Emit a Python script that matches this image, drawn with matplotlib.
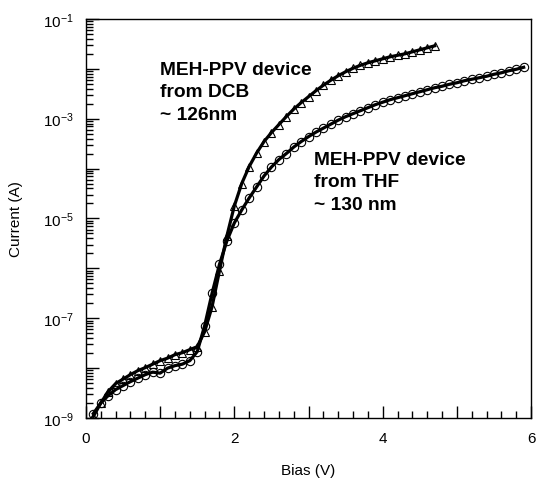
"""I-V curves of MEH-PPV devices (DCB vs THF) on a log scale."""
import matplotlib

matplotlib.use("Agg")
import matplotlib.pyplot as plt
from matplotlib.ticker import FixedLocator, FuncFormatter
import numpy as np

plt.rcParams["font.family"] = ["Liberation Sans", "DejaVu Sans"]
plt.rcParams["mathtext.default"] = "regular"

# bias points, 0.1 V apart
bias_dcb = np.round(np.arange(1, 48) * 0.1, 1)
bias_thf = np.round(np.arange(1, 60) * 0.1, 1)

# log10 of current (A)
log_dcb = [
    -8.97, -8.70, -8.47, -8.31, -8.22, -8.13, -8.05, -7.99, -7.92, -7.85,
    -7.80, -7.73, -7.69, -7.63, -7.57, -7.27, -6.77, -6.05, -5.35, -4.75,
    -4.30, -3.96, -3.69, -3.46, -3.28, -3.12, -2.96, -2.81, -2.68, -2.56,
    -2.44, -2.33, -2.23, -2.14, -2.06, -1.99, -1.93, -1.88, -1.84, -1.80,
    -1.76, -1.73, -1.70, -1.66, -1.62, -1.58, -1.54,
]
log_thf = [
    -8.91, -8.70, -8.55, -8.43, -8.35, -8.27, -8.20, -8.13, -8.08, -8.10,
    -8.00, -7.95, -7.92, -7.85, -7.67, -7.15, -6.50, -5.92, -5.45, -5.09,
    -4.83, -4.59, -4.37, -4.15, -3.97, -3.82, -3.70, -3.57, -3.46, -3.36,
    -3.27, -3.19, -3.11, -3.03, -2.96, -2.90, -2.84, -2.78, -2.72, -2.67,
    -2.62, -2.58, -2.54, -2.50, -2.46, -2.42, -2.38, -2.35, -2.31, -2.28,
    -2.24, -2.21, -2.18, -2.15, -2.11, -2.08, -2.04, -2.01, -1.97,
]

cur_dcb = 10.0 ** np.array(log_dcb)
cur_thf = 10.0 ** np.array(log_thf)

fig = plt.figure(figsize=(5.37, 4.85), dpi=100)
ax = fig.add_axes([0.160, 0.136, 0.829, 0.823])

ax.plot(bias_dcb, cur_dcb, color="black", lw=2.3, zorder=3)
ax.plot(bias_dcb, cur_dcb, ls="none", marker="^", ms=5.5, mfc="none",
        mec="black", mew=0.8, zorder=2)
ax.plot(bias_thf, cur_thf, color="black", lw=2.3, zorder=3)
ax.plot(bias_thf, cur_thf, ls="none", marker="o", ms=6, mfc="none",
        mec="black", mew=0.8, zorder=2)

ax.set_yscale("log")
ax.set_xlim(0, 6)
ax.set_ylim(1e-9, 1e-1)

ax.xaxis.set_major_locator(FixedLocator([0, 1, 2, 3, 4, 5, 6]))
ax.xaxis.set_minor_locator(FixedLocator(np.arange(0, 6.01, 0.2)))
ax.xaxis.set_major_formatter(FuncFormatter(lambda v, p: "%d" % v if int(round(v)) % 2 == 0 else ""))

decades = [10.0 ** e for e in range(-9, 0)]
minors = [m * 10.0 ** e for e in range(-9, -1) for m in range(2, 10)]
ax.yaxis.set_major_locator(FixedLocator(decades))
ax.yaxis.set_minor_locator(FixedLocator(minors))


def ylab(v, p):
    e = int(round(np.log10(v)))
    return r"$10^{%d}$" % e if e % 2 != 0 else ""


ax.yaxis.set_major_formatter(FuncFormatter(ylab))
ax.yaxis.set_minor_formatter(FuncFormatter(lambda v, p: ""))

ax.tick_params(which="both", direction="in", top=False, right=False,
               labelsize=11, width=1, color="black")
ax.tick_params(which="major", length=9, pad=9)
ax.tick_params(which="minor", length=5)
for s in ax.spines.values():
    s.set_linewidth(1)

ax.set_xlabel("Bias (V)", fontsize=11, labelpad=13)
ax.set_ylabel("Current (A)", fontsize=11, labelpad=14)

ax.text(1.0, 10 ** -1.85, "MEH-PPV device\nfrom DCB\n~ 126nm", fontsize=13.8,
        fontweight="bold", va="top", ha="left", linespacing=1.4)
ax.text(3.07, 10 ** -3.65, "MEH-PPV device\nfrom THF\n~ 130 nm", fontsize=13.8,
        fontweight="bold", va="top", ha="left", linespacing=1.4)

fig.savefig("out.png", dpi=100)
